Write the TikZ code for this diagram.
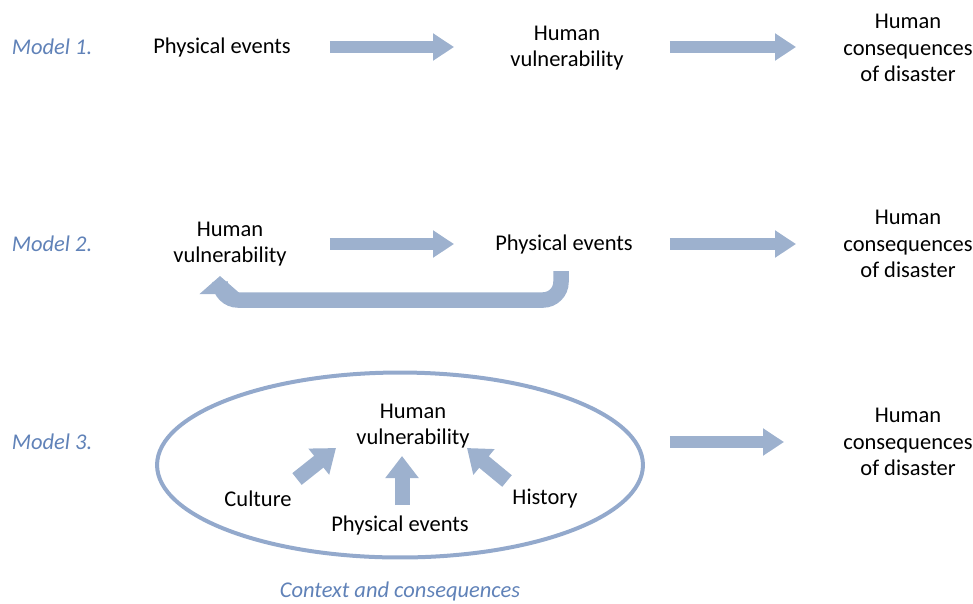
\documentclass[tikz,border=0pt]{standalone}
\usepackage{fontspec}
\setmainfont{Carlito}
\usepackage{xcolor}
\usetikzlibrary{arrows.meta,positioning,shapes.geometric}
\definecolor{arrblue}{RGB}{157,177,206}
\definecolor{modblue}{RGB}{96,130,184}
\definecolor{ellblue}{RGB}{147,169,204}

\begin{document}
\begin{tikzpicture}[
    x=0.02cm, y=-0.02cm,
    txt/.style={align=center, font=\fontsize{12.8}{15.2}\selectfont, text=black, inner sep=1pt},
    mlabel/.style={font=\fontsize{12.8}{15.2}\selectfont\itshape, text=modblue, inner sep=1pt},
    barr/.style={-{Triangle[width=0.52cm, length=0.42cm]}, line width=0.24cm, color=arrblue},
    sarr/.style={-{Triangle[width=0.64cm, length=0.44cm]}, line width=0.3cm, color=arrblue},
  ]
    \useasboundingbox (0,0) rectangle (973,603);

    % Model 1
    \node[mlabel] (m1) at (52,47) {Model 1.};
    \node[txt] (pe1) at (222,47) {Physical events};
    \node[txt] (hv1) at (567,48) {Human\\vulnerability};
    \node[txt] (hc1) at (908,48) {Human\\consequences\\of disaster};
    \draw[barr, shorten <=2.16cm, shorten >=2.26cm] (pe1.center) -- (hv1.center |- pe1.center);
    \draw[barr, shorten <=2.06cm, shorten >=2.24cm] (hv1.center |- pe1.center) -- (hc1.center |- pe1.center);

    % Model 2
    \node[mlabel] (m2) at (52,244) {Model 2.};
    \node[txt] (hv2) at (230,244) {Human\\vulnerability};
    \node[txt] (pe2) at (564,244) {Physical events};
    \node[txt] (hc2) at (908,244) {Human\\consequences\\of disaster};
    \draw[barr, shorten <=2.0cm, shorten >=2.2cm] (hv2.center) -- (pe2.center);
    \draw[barr, shorten <=2.12cm, shorten >=2.24cm] (pe2.center) -- (hc2.center);
    % feedback loop
    \coordinate (fbs) at (561,271);
    \coordinate (fbe) at (220,276);
    \draw[-{Triangle[width=0.8cm, length=0.36cm]}, line width=0.31cm, color=arrblue, rounded corners=0.36cm]
      (fbs) -- (561,300) -- (220,300) -- (fbe);

    % Model 3
    \node[mlabel] (m3) at (52,442) {Model 3.};
    \node[draw=ellblue, line width=0.08cm, ellipse, minimum width=9.72cm, minimum height=3.7cm, inner sep=0pt] (ell) at (400,465) {};
    \node[txt] (hv3) at (413,426) {Human\\vulnerability};
    \node[txt] (cu3) at (258,499) {Culture};
    \node[txt] (pe3) at (400,525) {Physical events};
    \node[txt] (hi3) at (545,499) {History};
    \node[txt] (hc3) at (908,442) {Human\\consequences\\of disaster};
    \node[mlabel] (ctx) at (400,591) {Context and consequences};
    \coordinate (c1s) at (297,479);
    \coordinate (c1e) at (336,448);
    \coordinate (c2s) at (402,505);
    \coordinate (c2e) at (402,456);
    \coordinate (c3s) at (507,481);
    \coordinate (c3e) at (467,448);
    \draw[sarr] (c1s) -- (c1e);
    \draw[sarr] (c2s) -- (c2e);
    \draw[sarr] (c3s) -- (c3e);
    \draw[barr, shorten <=0.5cm, shorten >=2.48cm] (ell.east |- hc3.center) -- (hc3.center);

  \end{tikzpicture}
\end{document}
